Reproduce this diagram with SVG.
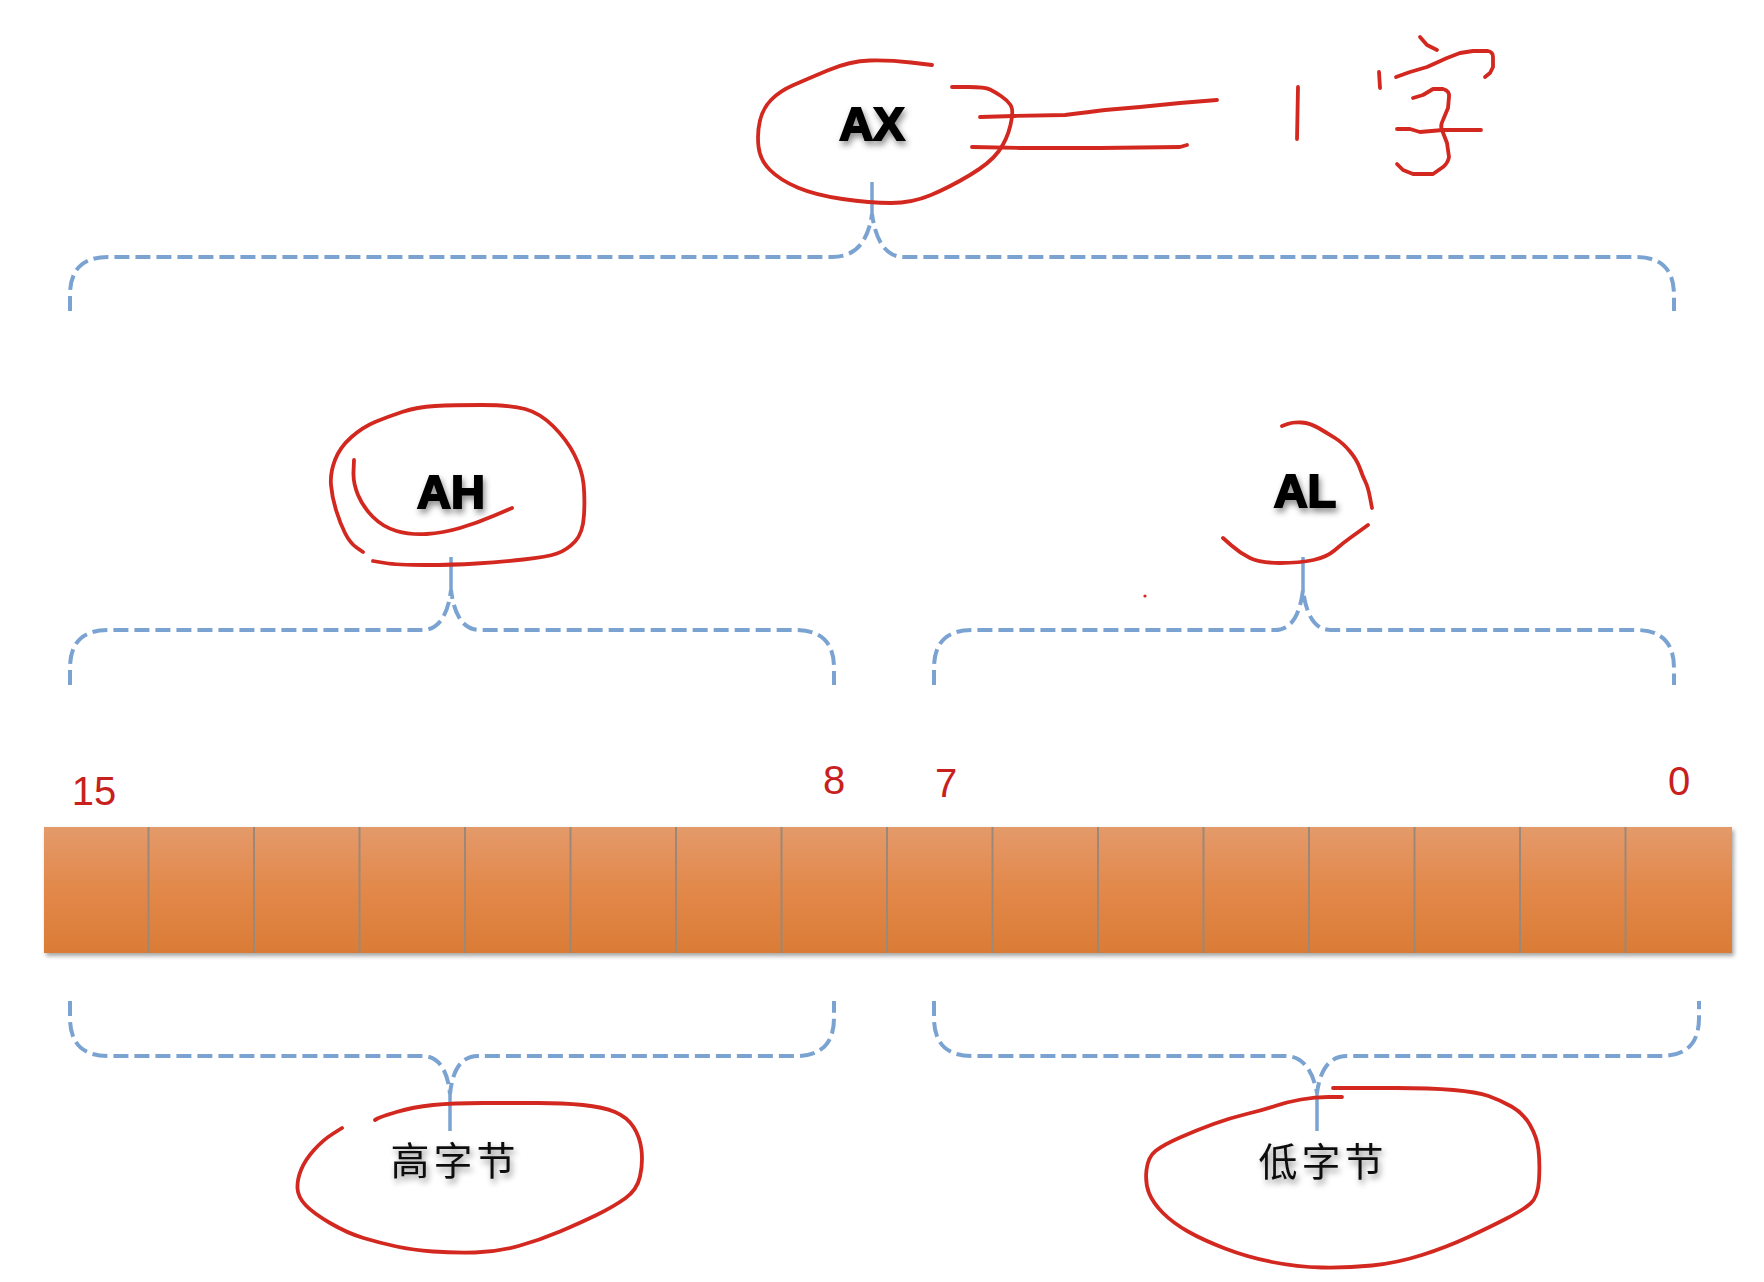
<svg xmlns="http://www.w3.org/2000/svg" width="1764" height="1282" viewBox="0 0 1764 1282">
<style>
.brace{fill:none;stroke:#7BA3D2;stroke-width:4;stroke-dasharray:15 6}
.stem{fill:none;stroke:#7BA3D2;stroke-width:3.5}
.ink{fill:none;stroke:#D2281F;stroke-width:3.8;stroke-linecap:round;stroke-linejoin:round}
.reg{font-family:"Liberation Sans",Arial,sans-serif;font-weight:bold;font-size:47px;fill:#000;stroke:#000;stroke-width:2;text-anchor:middle}
.num{font-family:"Liberation Sans",Arial,sans-serif;font-size:40px;fill:#C8211D;text-anchor:middle}
.cn{font-family:"Noto Sans CJK SC",sans-serif;font-size:39px;fill:#111;letter-spacing:4px;text-anchor:middle}
.cell{fill:url(#cellGrad)}
</style>
<defs>
<linearGradient id="cellGrad" x1="0" y1="0" x2="0" y2="1">
<stop offset="0" stop-color="#E49A6A"/>
<stop offset="0.5" stop-color="#E2884A"/>
<stop offset="1" stop-color="#DA7C36"/>
</linearGradient>
<filter id="cellShadow" x="-5%" y="-10%" width="110%" height="130%">
<feDropShadow dx="2" dy="3" stdDeviation="2" flood-color="#000" flood-opacity="0.35"/>
</filter>
<filter id="txtShadow" x="-20%" y="-30%" width="140%" height="170%">
<feDropShadow dx="2" dy="4" stdDeviation="3" flood-color="#000" flood-opacity="0.45"/>
</filter>
</defs>
<rect width="1764" height="1282" fill="#FFFFFF"/>

<g id="connectors">
<path class="brace" d="M70,311 L70,295 Q70,257 108,257 L832,257 Q866,257 872,214 Q878,257 904,257 L1636,257 Q1674,257 1674,295 L1674,311"/>
<line class="stem" x1="872" y1="182" x2="872" y2="214"/>
<path class="brace" d="M70,685 L70,668 Q70,630 108,630 L422,630 Q446,630 451,590 Q456,630 480,630 L796,630 Q834,630 834,668 L834,685"/>
<line class="stem" x1="451" y1="557" x2="451" y2="591"/>
<path class="brace" d="M934,685 L934,668 Q934,630 972,630 L1275,630 Q1298,630 1303,590 Q1308,630 1331,630 L1636,630 Q1674,630 1674,668 L1674,685"/>
<line class="stem" x1="1303" y1="557" x2="1303" y2="591"/>
<path class="brace" d="M70,1001 L70,1018 Q70,1056 108,1056 L422,1056 Q446,1056 450,1094 Q454,1056 478,1056 L796,1056 Q834,1056 834,1018 L834,1001"/>
<line class="stem" x1="450" y1="1093" x2="450" y2="1131"/>
<path class="brace" d="M934,1001 L934,1018 Q934,1056 972,1056 L1285,1056 Q1310,1056 1317,1093 Q1322,1056 1347,1056 L1661,1056 Q1699,1056 1699,1018 L1699,1001"/>
<line class="stem" x1="1317" y1="1092" x2="1317" y2="1131"/>
</g>

<g id="bits">
<rect x="44" y="827" width="1688" height="126" fill="#9C8878" filter="url(#cellShadow)"/>
<rect class="cell" x="44" y="827" width="103.5" height="126"/>
<rect class="cell" x="149.5" y="827" width="103.5" height="126"/>
<rect class="cell" x="255" y="827" width="103.5" height="126"/>
<rect class="cell" x="360.5" y="827" width="103.5" height="126"/>
<rect class="cell" x="466" y="827" width="103.5" height="126"/>
<rect class="cell" x="571.5" y="827" width="103.5" height="126"/>
<rect class="cell" x="677" y="827" width="103.5" height="126"/>
<rect class="cell" x="782.5" y="827" width="103.5" height="126"/>
<rect class="cell" x="888" y="827" width="103.5" height="126"/>
<rect class="cell" x="993.5" y="827" width="103.5" height="126"/>
<rect class="cell" x="1099" y="827" width="103.5" height="126"/>
<rect class="cell" x="1204.5" y="827" width="103.5" height="126"/>
<rect class="cell" x="1310" y="827" width="103.5" height="126"/>
<rect class="cell" x="1415.5" y="827" width="103.5" height="126"/>
<rect class="cell" x="1521" y="827" width="103.5" height="126"/>
<rect class="cell" x="1626.5" y="827" width="105.5" height="126"/>
</g>

<g id="bit-numbers">
<text class="num" x="94" y="805">15</text>
<text class="num" x="834" y="794">8</text>
<text class="num" x="946" y="797">7</text>
<text class="num" x="1679" y="795">0</text>
</g>

<g id="node-ax">
<text class="reg" x="872" y="140" filter="url(#txtShadow)">AX</text>
<path class="ink" d="M932,65 L911,62.5 Q890,60 870,60.5 Q850,61 827.5,70.5 Q805,80 792.5,85.5 Q780,91 771.5,99.5 Q763,108 760,120.5 Q757,133 758.5,146.5 Q760,160 770,170 Q780,180 797.5,187.5 Q815,195 842.5,199 Q870,203 891,203 Q912,203 931,195 Q950,187 970,175 Q990,163 998.5,151.5 Q1007,140 1010.5,125 Q1014,110 1010.5,105 Q1007,100 1001,96 Q995,92 990,89.5 Q985,87 968.5,87 L952,87"/>
<path class="ink" d="M980,117 L1014,116 L1065,115 Q1090,112 1105,110 L1140,107 L1180,103 L1217,100"/>
<path class="ink" d="M972,147 L1020,148 L1100,148 L1180,147 L1187,145"/>
<path class="ink" d="M1298,87 L1297,139"/>
<path class="ink" d="M1420,37 L1427,45 L1437,50"/>
<path class="ink" d="M1379,72 L1380,88"/>
<path class="ink" d="M1396,77 L1410,72 L1427,67 L1447,58 L1460,53 L1473,51 L1488,51 Q1493,52 1493,57 L1493,67 L1490,73 L1485,77"/>
<path class="ink" d="M1413,98 L1423,95 L1433,89 L1443,89 Q1450,91 1449,97 L1448,108 L1443,120 Q1440,126 1442,130 L1447,143 L1449,157 Q1448,163 1443,167 L1433,174 L1413,174 L1403,170 L1397,164"/>
<path class="ink" d="M1397,129 L1410,129 L1420,132 L1443,130 L1481,130"/>
</g>

<g id="node-ah">
<text class="reg" x="451" y="508" filter="url(#txtShadow)">AH</text>
<path class="ink" d="M363,552 L356.5,547.5 Q350,543 345,533 Q340,523 336,510 Q332,497 331,485 Q330,473 335,460 Q340,447 351.5,437 Q363,427 375,422 Q387,417 402,412 Q417,407 435,406 Q453,405 481.5,405 Q510,405 525,409 Q540,413 553.5,426.5 Q567,440 574.5,455 Q582,470 583.5,483.5 Q585,497 584,515 Q583,533 575,541.5 Q567,550 557,553.5 Q547,557 523.5,559.5 Q500,562 476.5,563.5 Q453,565 425,565 Q397,565 385,563 L373,561"/>
<path class="ink" d="M354,460 L353.5,471.5 Q353,483 358,495 Q363,507 373,517 Q383,527 396.5,531 Q410,535 426.5,534 Q443,533 460,528 Q477,523 494.5,515.5 L512,508"/>
</g>

<g id="node-al">
<text class="reg" x="1305" y="507" filter="url(#txtShadow)">AL</text>
<path class="ink" d="M1282,426 L1287.5,424 Q1293,422 1301.5,422.5 Q1310,423 1318.5,428 Q1327,433 1335,438 Q1343,443 1350,451.5 Q1357,460 1360,468.5 Q1363,477 1365.5,482 Q1368,487 1370,497.5 L1372,508"/>
<path class="ink" d="M1368,525 L1362.5,529 Q1357,533 1350,538 Q1343,543 1335,550 Q1327,557 1313.5,560 Q1300,563 1280,563 Q1260,563 1250,558 Q1240,553 1231.5,545.5 L1223,538"/>
<circle cx="1145" cy="596" r="1.6" fill="#D2281F"/>
</g>

<g id="node-high-byte">
<text class="cn" x="455" y="1175" filter="url(#txtShadow)">高字节</text>
<path class="ink" d="M342,1128 L332.5,1134 Q323,1140 314,1150 Q305,1160 301,1170 Q297,1180 297.5,1188.5 Q298,1197 305.5,1205 Q313,1213 330,1223 Q347,1233 363.5,1238 Q380,1243 396.5,1246.5 Q413,1250 433,1251.5 Q453,1253 475,1252.5 Q497,1252 518.5,1246 Q540,1240 560,1231.5 Q580,1223 596.5,1215 Q613,1207 625,1198.5 Q637,1190 640,1176.5 Q643,1163 641.5,1150 Q640,1137 633.5,1127 Q627,1117 615,1112 Q603,1107 583,1105 Q563,1103 538,1103 Q513,1103 483,1103 Q453,1103 433,1105 Q413,1107 396.5,1112 Q380,1117 377.5,1118.5 L375,1120"/>
</g>

<g id="node-low-byte">
<text class="cn" x="1323" y="1176" filter="url(#txtShadow)">低字节</text>
<path class="ink" d="M1333,1088 L1348,1088 Q1363,1088 1396.5,1088 Q1430,1088 1453.5,1090 Q1477,1092 1488.5,1096 Q1500,1100 1511.5,1106.5 Q1523,1113 1530,1125 Q1537,1137 1538.5,1150 Q1540,1163 1539,1180 Q1538,1197 1530.5,1203.5 Q1523,1210 1506.5,1218.5 Q1490,1227 1468.5,1237 Q1447,1247 1422,1255 Q1397,1263 1372,1265.5 Q1347,1268 1322,1267.5 Q1297,1267 1272,1262 Q1247,1257 1225,1248.5 Q1203,1240 1188,1231.5 Q1173,1223 1163,1213 Q1153,1203 1149,1193 Q1145,1183 1146.5,1170 Q1148,1157 1155.5,1151 Q1163,1145 1180,1137.5 Q1197,1130 1213.5,1124 Q1230,1118 1246.5,1114 Q1263,1110 1275,1106 Q1287,1102 1301,1099.5 Q1315,1097 1328.5,1097 L1342,1097"/>
</g>
</svg>
